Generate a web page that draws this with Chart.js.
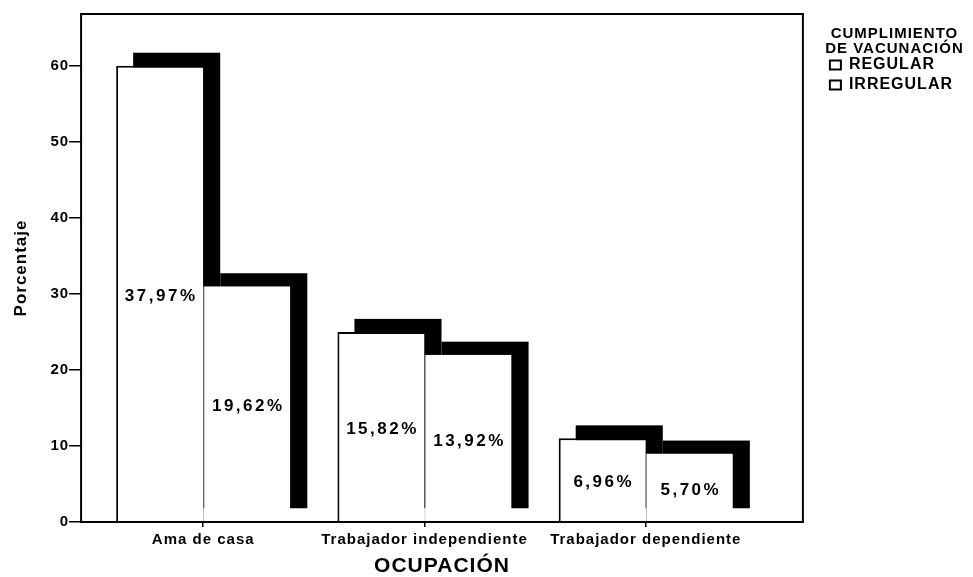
<!DOCTYPE html>
<html lang="es">
<head>
    <meta charset="UTF-8">
    <title>Ocupación y cumplimiento de vacunación</title>
    <script src="https://cdn.jsdelivr.net/npm/chart.js"></script>
    <style>
        body { margin: 0; background: #fff; }
        .chart-container { position: relative; width: 973px; height: 577px; }
    </style>
</head>
<body>
    <div class="chart-container">
        <canvas id="ocupacionChart"></canvas>
    </div>

    <script>
        // Datos
        const categories = ['Ama de casa', 'Trabajador independiente', 'Trabajador dependiente'];
        const seriesNames = ['REGULAR', 'IRREGULAR'];
        const regular = [60.0, 25.0, 11.0];
        const irregular = [31.0, 22.0, 9.0];
        const regularLabels = ['37,97%', '15,82%', '6,96%'];
        const irregularLabels = ['19,62%', '13,92%', '5,70%'];
        const yTicks = [0, 10, 20, 30, 40, 50, 60];

        const FONT = "'Liberation Sans', Arial, sans-serif";
        Chart.defaults.font.family = FONT;
        Chart.defaults.font.weight = 'bold';
        Chart.defaults.color = '#000';

        // the scanned original is stretched sideways, so widen all text a little
        const spacing = {
            id: 'spacing',
            beforeUpdate(chart) { chart.ctx.letterSpacing = '1px'; },
            beforeDraw(chart) { chart.ctx.letterSpacing = '1px'; }
        };

        // black drop shadow behind every bar (up and to the right)
        const barShadow = {
            id: 'barShadow',
            beforeDatasetsDraw(chart) {
                const ctx = chart.ctx;
                ctx.save();
                ctx.fillStyle = '#000';
                chart.data.datasets.forEach((ds, i) => {
                    chart.getDatasetMeta(i).data.forEach(bar => {
                        const { x, y, base, width } = bar.getProps(['x', 'y', 'base', 'width'], true);
                        ctx.fillRect(x - width / 2 + 17, y - 13, width, base - y);
                    });
                });
                ctx.restore();
            }
        };

        // percentage text in the middle of each bar + frame round the plot
        const barText = {
            id: 'barText',
            afterDatasetsDraw(chart) {
                const ctx = chart.ctx;
                const texts = [regularLabels, irregularLabels];
                ctx.save();
                ctx.letterSpacing = '2.5px';
                ctx.font = 'bold 17px ' + FONT;
                ctx.fillStyle = '#000';
                ctx.textAlign = 'center';
                ctx.textBaseline = 'middle';
                chart.data.datasets.forEach((ds, i) => {
                    chart.getDatasetMeta(i).data.forEach((bar, j) => {
                        const { x, y, base } = bar.getProps(['x', 'y', 'base'], true);
                        ctx.fillText(texts[i][j], x + 1.5, (y + base) / 2 + 3);
                    });
                });
                const a = chart.chartArea;
                ctx.strokeStyle = '#000';
                ctx.lineWidth = 2;
                ctx.strokeRect(a.left, a.top, a.right - a.left, a.bottom - a.top);
                ctx.restore();
            }
        };

        new Chart(document.getElementById('ocupacionChart'), {
            type: 'bar',
            data: {
                datasets: [{
                    label: seriesNames[0],
                    data: regular.map((v, i) => ({ x: i, y: v })),
                    yAxisID: 'y',
                    backgroundColor: '#fff',
                    borderColor: '#000',
                    borderWidth: { left: 2, top: 2, right: 0, bottom: 0 }
                }, {
                    label: seriesNames[1],
                    data: irregular.map((v, i) => ({ x: i, y: v })),
                    yAxisID: 'y',
                    backgroundColor: '#fff',
                    borderColor: '#999',
                    borderWidth: { left: 1, top: 0, right: 0, bottom: 0 }
                }]
            },
            options: {
                responsive: true,
                maintainAspectRatio: false,
                animation: false,
                categoryPercentage: 0.787,
                barPercentage: 1.0,
                layout: { padding: { top: 14, left: 5, right: 10, bottom: 0 } },
                plugins: {
                    tooltip: { enabled: false },
                    legend: {
                        position: 'right',
                        align: 'start',
                        title: {
                            display: true,
                            text: ['CUMPLIMIENTO', 'DE VACUNACIÓN'],
                            font: { size: 15, weight: 'bold', lineHeight: 1 },
                            padding: { top: 12, bottom: 12 }
                        },
                        labels: {
                            boxWidth: 11,
                            boxHeight: 9,
                            padding: 4,
                            font: { size: 16 },
                            generateLabels(chart) {
                                const items = Chart.defaults.plugins.legend.labels.generateLabels(chart);
                                items.forEach(it => { it.strokeStyle = '#000'; it.lineWidth = 2; });
                                return items;
                            }
                        }
                    }
                },
                scales: {
                    x: {
                        type: 'linear',
                        min: -0.552,
                        max: 2.71,
                        offset: false,
                        afterBuildTicks: s => { s.ticks = categories.map((c, i) => ({ value: i })); },
                        ticks: { callback: v => categories[v], font: { size: 15 }, padding: 4, maxRotation: 0, autoSkip: false },
                        grid: { offset: false, drawOnChartArea: false, tickLength: 5, color: '#000', lineWidth: 1.5 },
                        border: { display: false },
                        title: {
                            display: true,
                            text: 'OCUPACIÓN',
                            font: { size: 21, weight: 'bold', lineHeight: 1 },
                            padding: { top: 3, bottom: 0 }
                        }
                    },
                    y: {
                        min: 0,
                        max: 66.8,
                        afterBuildTicks: s => { s.ticks = yTicks.map(v => ({ value: v })); },
                        ticks: { font: { size: 15 }, padding: 0 },
                        grid: { drawOnChartArea: false, tickLength: 12, color: '#000', lineWidth: 1.5 },
                        border: { display: false },
                        title: {
                            display: true,
                            text: 'Porcentaje',
                            font: { size: 17, weight: 'bold' },
                            padding: { top: 6, bottom: 19 }
                        }
                    },
                    y2: {
                        position: 'right',
                        grid: { display: false, drawTicks: false },
                        ticks: { display: false },
                        border: { display: false },
                        afterFit: s => { s.width = 23; }
                    }
                }
            },
            plugins: [spacing, barShadow, barText]
        });
    </script>
</body>
</html>
